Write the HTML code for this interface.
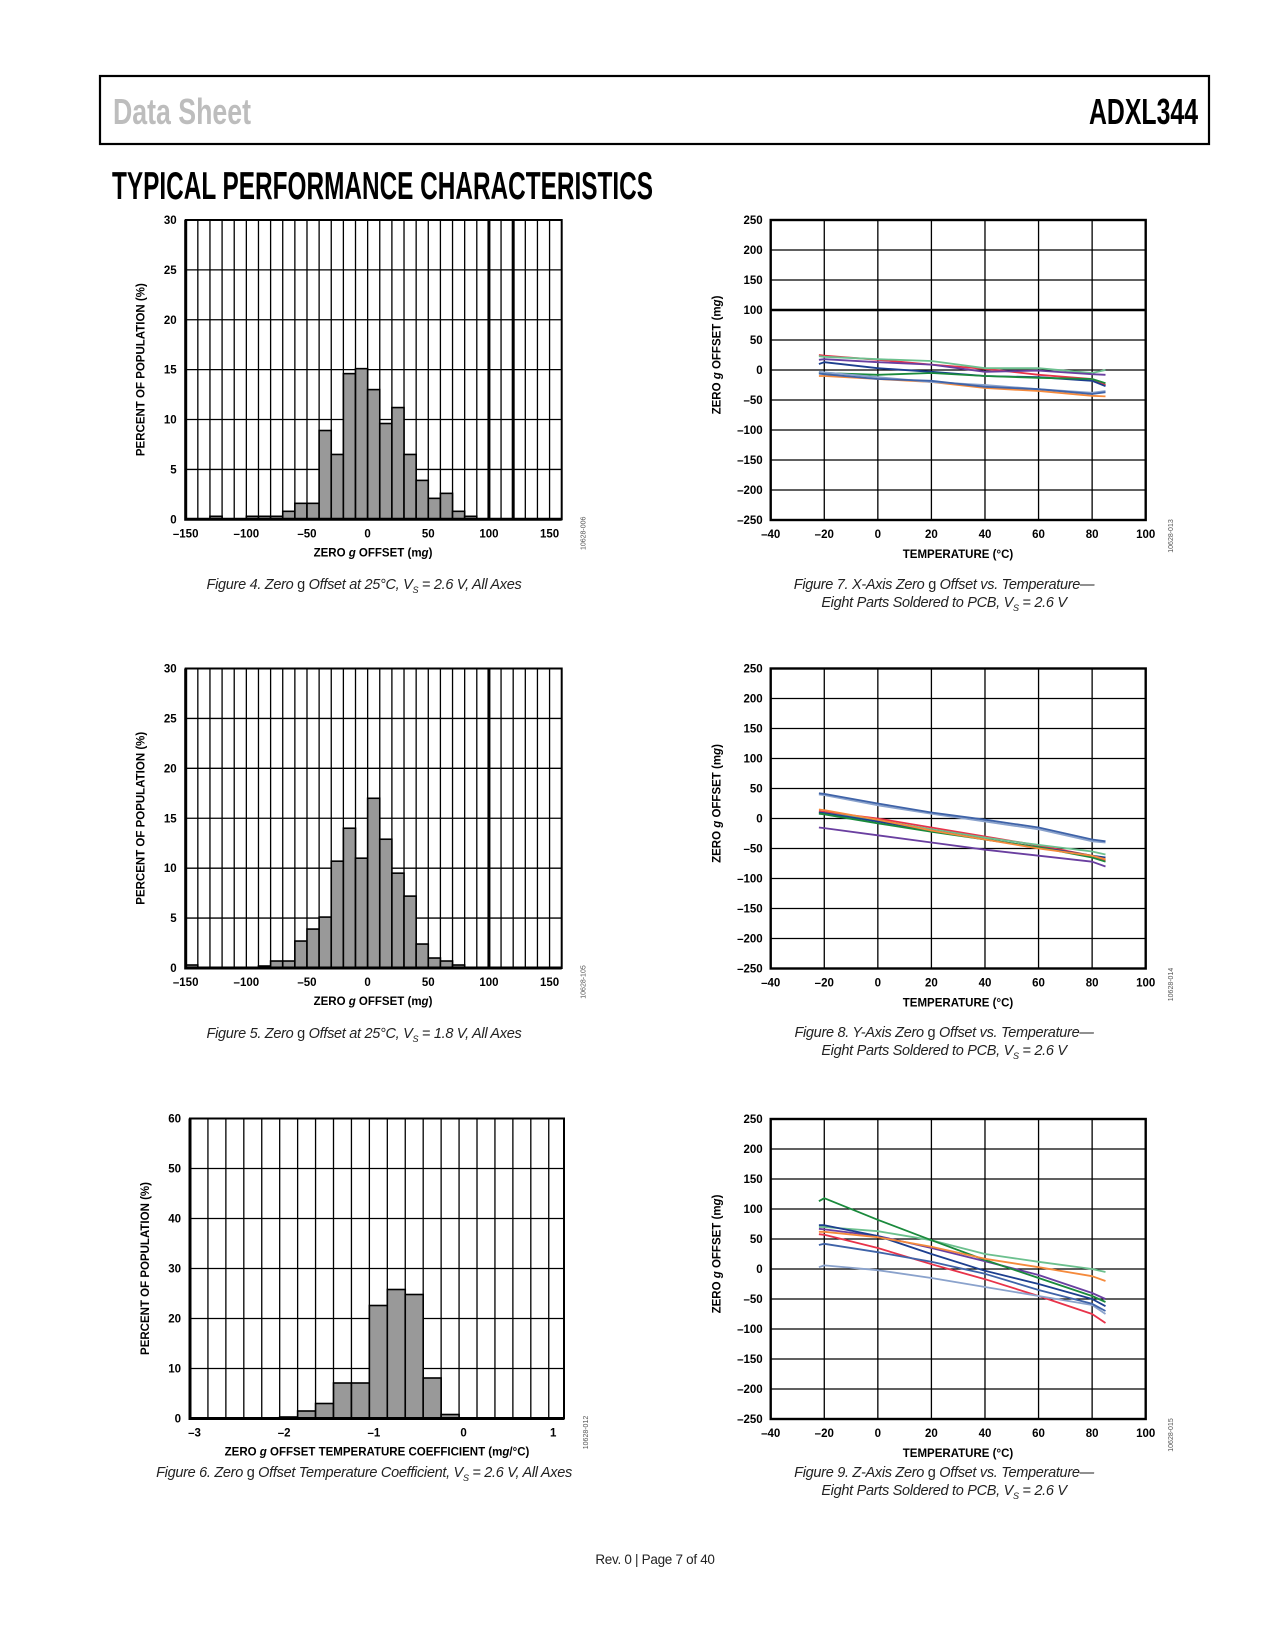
<!DOCTYPE html>
<html><head><meta charset="utf-8"><style>
html,body{margin:0;padding:0;background:#fff}
body{width:1275px;height:1650px;position:relative;overflow:hidden;font-family:"Liberation Sans",sans-serif}
.cap{position:absolute;font-family:"Liberation Sans",sans-serif;font-style:italic;font-size:14.5px;color:#222;text-align:center;line-height:18px;white-space:nowrap;transform:translateX(-50%);letter-spacing:-0.3px}
.cap .u{font-style:normal}
.cap sub{font-size:9px}
</style></head><body>
<svg id="pg" width="1275" height="1650" viewBox="0 0 1275 1650" style="position:absolute;left:0;top:0">
<rect x="100" y="76" width="1109" height="68" fill="none" stroke="#000" stroke-width="2.2"/>
<text x="113" y="124" font-family="Liberation Sans" font-weight="bold" font-size="36" fill="#bdbdbd" textLength="138" lengthAdjust="spacingAndGlyphs">Data Sheet</text>
<text x="1089" y="124" font-family="Liberation Sans" font-weight="bold" font-size="36" fill="#000" textLength="109" lengthAdjust="spacingAndGlyphs">ADXL344</text>
<text x="112" y="199" font-family="Liberation Sans" font-weight="bold" font-size="39" fill="#000" textLength="541" lengthAdjust="spacingAndGlyphs">TYPICAL PERFORMANCE CHARACTERISTICS</text>
</svg>
<div class="cap" style="left:364px;top:576px">Figure 4. Zero <span class="u">g</span> Offset at 25°C, V<sub>S</sub> = 2.6 V, All Axes</div>
<div class="cap" style="left:944px;top:576px">Figure 7. X-Axis Zero <span class="u">g</span> Offset vs. Temperature—<br>Eight Parts Soldered to PCB, V<sub>S</sub> = 2.6 V</div>
<div class="cap" style="left:364px;top:1025px">Figure 5. Zero <span class="u">g</span> Offset at 25°C, V<sub>S</sub> = 1.8 V, All Axes</div>
<div class="cap" style="left:944px;top:1024px">Figure 8. Y-Axis Zero <span class="u">g</span> Offset vs. Temperature—<br>Eight Parts Soldered to PCB, V<sub>S</sub> = 2.6 V</div>
<div class="cap" style="left:364px;top:1464px">Figure 6. Zero <span class="u">g</span> Offset Temperature Coefficient, V<sub>S</sub> = 2.6 V, All Axes</div>
<div class="cap" style="left:944px;top:1464px">Figure 9. Z-Axis Zero <span class="u">g</span> Offset vs. Temperature—<br>Eight Parts Soldered to PCB, V<sub>S</sub> = 2.6 V</div>
<div class="cap" style="left:655px;top:1551px;font-style:normal;font-size:13.5px">Rev. 0 | Page 7 of 40</div>
<script>
// ---- Figure 4 histogram data ----
const h1Bins = [-130,-100,-90,-80,-70,-60,-50,-40,-30,-20,-10,0,10,20,30,40,50,60,70,80];
const h1Vals = [0.3,0.3,0.3,0.3,0.8,1.6,1.6,8.9,6.5,14.6,15.1,13,9.6,11.2,6.5,3.9,2.1,2.6,0.8,0.3];
// ---- Figure 5 histogram data ----
const h2Bins = [-150,-90,-80,-70,-60,-50,-40,-30,-20,-10,0,10,20,30,40,50,60,70];
const h2Vals = [0.3,0.2,0.7,0.7,2.7,3.9,5.1,10.7,14,11,17,12.9,9.5,7.2,2.4,1.0,0.7,0.3];
// ---- Figure 6 histogram data ----
const h3Bins = [-2.05,-1.85,-1.65,-1.45,-1.25,-1.05,-0.85,-0.65,-0.45,-0.25];
const h3Vals = [0.3,1.5,3,7.1,7.1,22.6,25.8,24.8,8.1,0.8];
const histXTicks = [-150,-100,-50,0,50,100,150];
const histYTicks = [0,5,10,15,20,25,30];
const h3XTicks = [-3,-2,-1,0,1];
const h3YTicks = [0,10,20,30,40,50,60];
// ---- Temperature line charts ----
const temps = [-22,-20,0,20,40,60,80,85];
const tempXTicks = [-40,-20,0,20,40,60,80,100];
const offYTicks = [-250,-200,-150,-100,-50,0,50,100,150,200,250];
const seriesColors = ['#e8334a','#6cc08e','#6a3fa0','#1d3f8f','#1a8a3c','#f58a3c','#8aa2cc','#3f63a8'];
const seriesNames = ['red','light-green','purple','dark-blue','green','orange','gray-blue','medium-blue'];
const xAxisSeries = [
 [25,24,17,9,2,-8,-15,-25],
 [23,22,18,15,3,3,-5,0],
 [17,18,13,9,-3,-1,-7,-8],
 [10,13,3,-3,-10,-12,-18,-27],
 [-5,-5,-8,-5,-10,-13,-15,-22],
 [-10,-10,-15,-20,-30,-35,-43,-44],
 [-3,-4,-12,-20,-25,-32,-38,-35],
 [-6,-7,-15,-18,-28,-32,-40,-37]
];
const yAxisSeries = [
 [12,11,0,-15,-30,-45,-62,-70],
 [10,9,-3,-18,-32,-44,-55,-60],
 [-15,-16,-28,-40,-52,-62,-72,-80],
 [10,9,-5,-20,-35,-48,-62,-65],
 [8,7,-8,-22,-35,-48,-65,-72],
 [15,14,-2,-20,-35,-50,-62,-68],
 [40,39,22,8,-5,-18,-38,-40],
 [42,41,25,10,-2,-15,-35,-38]
];
const zAxisSeries = [
 [58,57,35,8,-17,-45,-75,-90],
 [70,70,63,48,25,12,0,-5],
 [67,66,55,35,13,-10,-40,-50],
 [73,73,55,25,-3,-25,-50,-62],
 [113,118,82,48,15,-15,-45,-55],
 [62,62,53,37,17,3,-12,-20],
 [3,6,-2,-15,-30,-45,-60,-75],
 [40,42,28,12,-8,-35,-58,-70]
];

const NS='http://www.w3.org/2000/svg';
const svg=document.getElementById('pg');
function mk(tag,attrs,parent){const e=document.createElementNS(NS,tag);for(const k in attrs)e.setAttribute(k,attrs[k]);(parent||svg).appendChild(e);return e;}
function fmt(v){return v<0?'\u2013'+String(-v):String(v);}
const FONT='Liberation Sans';

function hist(o){
  const g=mk('g',{});
  
  
  const xs=v=>o.L+(v-o.xmin)/(o.xmax-o.xmin)*o.W;
  const ys=v=>o.T+o.H-v/o.ymax*o.H;
  for(let v=o.xmin+o.gs;v<o.xmax-o.gs*0.3;v+=o.gs){
    const thick=o.thick&&o.thick.some(t=>Math.abs(t-v)<1e-6);
    const l=mk('line',{x1:xs(v),x2:xs(v),y1:o.T,y2:o.T+o.H,stroke:'#000','stroke-width':thick?3:1.3},g);
    
    
  }
  o.yt.forEach(v=>{
    if(v>0&&v<o.ymax){
      const l=mk('line',{x1:o.L,x2:o.L+o.W,y1:ys(v),y2:ys(v),stroke:'#000','stroke-width':1.3},g);
      
      
    }
    const t=mk('text',{x:o.L-9,y:ys(v)+4,'text-anchor':'end','font-family':FONT,'font-weight':'bold','font-size':11.5},g);
    t.textContent=fmt(v);
    
    
  });
  o.bins.forEach((b,i)=>{
    const x0=xs(b),x1=xs(b+o.bw);
    const r=mk('rect',{x:x0,y:ys(o.vals[i]),width:x1-x0,height:ys(0)-ys(o.vals[i]),fill:'#999',stroke:'#000','stroke-width':1.6},g);
    
    
  });
  const f=mk('rect',{x:o.L,y:o.T,width:o.W,height:o.H,fill:'none',stroke:'#000','stroke-width':2},g);
  
  
  const ax=mk('path',{d:`M${o.L},${o.T} V${o.T+o.H} H${o.L+o.W}`,fill:'none',stroke:'#000','stroke-width':3},g);
  
  
  o.xt.forEach(v=>{
    const t=mk('text',{x:xs(v),y:o.T+o.H+18,'text-anchor':'middle','font-family':FONT,'font-weight':'bold','font-size':11.5},g);
    t.textContent=fmt(v);
    
    
  });
  const xt=mk('text',{x:o.xtx,y:o.T+o.H+37,'text-anchor':'middle','font-family':FONT,'font-weight':'bold','font-size':11.5},g);
  xt.innerHTML=o.xtitle;
  
  
  const yt=mk('text',{x:0,y:0,'text-anchor':'middle','font-family':FONT,'font-weight':'bold','font-size':11.5,transform:`translate(${o.L-41},${o.T+o.H/2}) rotate(-90)`},g);
  yt.textContent='PERCENT OF POPULATION (%)';
  
  
  const c=mk('text',{x:0,y:0,'text-anchor':'middle','font-family':FONT,'font-size':7,fill:'#555',transform:`translate(${o.L+o.W+24},${o.T+o.H+14}) rotate(-90)`},g);
  c.textContent=o.code;
  
  
}

hist({name:'figure-4-histogram',L:185.7,T:220,W:376,H:299.3,xmin:-150,xmax:160,gs:10,ymax:30,bins:h1Bins,vals:h1Vals,bw:10,xt:histXTicks,yt:histYTicks,thick:[100,120],xtx:373,xtitle:'ZERO <tspan font-style="italic">g</tspan> OFFSET (m<tspan font-style="italic">g</tspan>)',code:'10628-006'});
hist({name:'figure-5-histogram',L:185.7,T:668.5,W:376,H:299.5,xmin:-150,xmax:160,gs:10,ymax:30,bins:h2Bins,vals:h2Vals,bw:10,xt:histXTicks,yt:histYTicks,thick:[100],xtx:373,xtitle:'ZERO <tspan font-style="italic">g</tspan> OFFSET (m<tspan font-style="italic">g</tspan>)',code:'10628-105'});
hist({name:'figure-6-histogram',L:190,T:1118.5,W:374,H:300,xmin:-3.05,xmax:1.12,gs:0.2,ymax:60,bins:h3Bins,vals:h3Vals,bw:0.2,xt:h3XTicks,yt:h3YTicks,xtx:377,xtitle:'ZERO <tspan font-style="italic">g</tspan> OFFSET TEMPERATURE COEFFICIENT (m<tspan font-style="italic">g</tspan>/°C)',code:'10628-012'});

function lineChart(o){
  const g=mk('g',{});
  
  
  const xs=v=>o.L+(v+40)/140*o.W;
  const ys=v=>o.T+(250-v)/500*o.H;
  tempXTicks.forEach(v=>{
    if(v>-40&&v<100){
      const l=mk('line',{x1:xs(v),x2:xs(v),y1:o.T,y2:o.T+o.H,stroke:'#000','stroke-width':1.3},g);
      
      
    }
    const t=mk('text',{x:xs(v),y:o.T+o.H+18,'text-anchor':'middle','font-family':FONT,'font-weight':'bold','font-size':11.5},g);
    t.textContent=fmt(v);
    
    
  });
  offYTicks.forEach(v=>{
    if(v>-250&&v<250){
      const l=mk('line',{x1:o.L,x2:o.L+o.W,y1:ys(v),y2:ys(v),stroke:'#000','stroke-width':(o.thick100&&v===100)?2.4:1.3},g);
      
      
    }
    const t=mk('text',{x:o.L-8,y:ys(v)+4,'text-anchor':'end','font-family':FONT,'font-weight':'bold','font-size':11.5},g);
    t.textContent=fmt(v);
    
    
  });
  o.series.forEach((s,i)=>{
    const d=s.map((v,j)=>(j?'L':'M')+xs(temps[j]).toFixed(1)+','+ys(v).toFixed(1)).join(' ');
    const p=mk('path',{d:d,fill:'none',stroke:seriesColors[i],'stroke-width':1.8,'stroke-linejoin':'round'},g);
    
    
  });
  const f=mk('rect',{x:o.L,y:o.T,width:o.W,height:o.H,fill:'none',stroke:'#000','stroke-width':2.4},g);
  
  
  const xt=mk('text',{x:958,y:o.T+o.H+38,'text-anchor':'middle','font-family':FONT,'font-weight':'bold','font-size':11.5},g);
  xt.textContent='TEMPERATURE (°C)';
  
  
  const yt=mk('text',{x:0,y:0,'text-anchor':'middle','font-family':FONT,'font-weight':'bold','font-size':11.5,transform:`translate(${o.L-50},${o.T+o.H/2-15}) rotate(-90)`},g);
  yt.innerHTML='ZERO <tspan font-style="italic">g</tspan> OFFSET (m<tspan font-style="italic">g</tspan>)';
  
  
  const c=mk('text',{x:0,y:0,'text-anchor':'middle','font-family':FONT,'font-size':7,fill:'#555',transform:`translate(1173,${o.T+o.H+16}) rotate(-90)`},g);
  c.textContent=o.code;
  
  
}
lineChart({name:'figure-7-x-axis-chart',L:770.7,T:220,W:375,H:300,series:xAxisSeries,thick100:true,code:'10628-013'});
lineChart({name:'figure-8-y-axis-chart',L:770.7,T:668.5,W:375,H:300,series:yAxisSeries,code:'10628-014'});
lineChart({name:'figure-9-z-axis-chart',L:770.7,T:1119,W:375,H:300,series:zAxisSeries,code:'10628-015'});
</script>
</body></html>
